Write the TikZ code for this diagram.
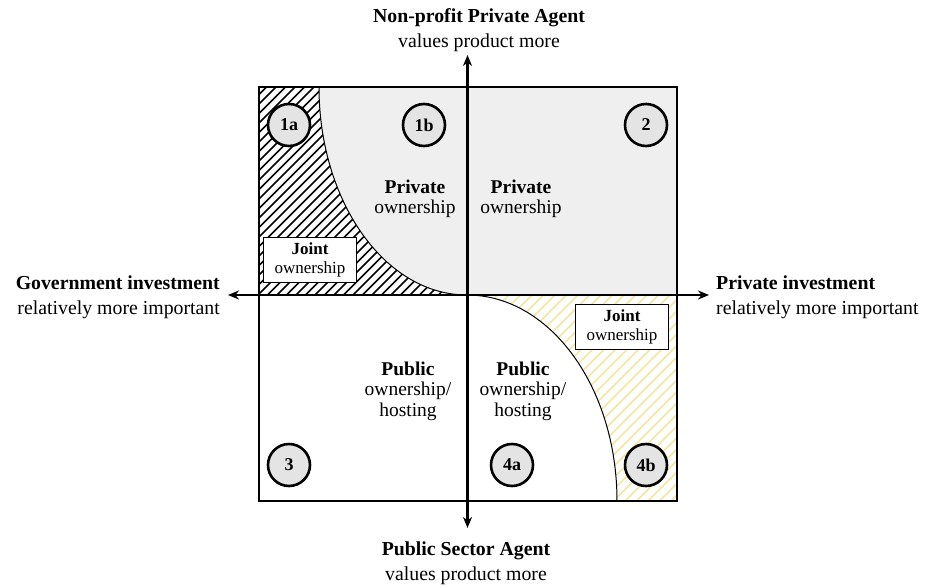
\documentclass[tikz,border=0pt]{standalone}
\usepackage{fontspec}
\setmainfont{Liberation Serif}
\usetikzlibrary{arrows.meta}
\definecolor{qgray}{HTML}{EFEFEF}
\definecolor{cgray}{HTML}{E4E4E4}
\definecolor{hyellow}{HTML}{F3E6A0}
\tikzset{
  outer/.style={font=\fontsize{19.8}{25}\selectfont, inner sep=0pt},
  quad/.style={font=\fontsize{19.5}{20.5}\selectfont, align=center, inner sep=0pt},
  jointbox/.style={draw, fill=white, line width=1pt, font=\fontsize{17}{19}\selectfont,
    align=center, minimum width=93pt, minimum height=45pt, inner sep=0pt},
  num/.style={circle, draw, line width=2.6pt, fill=cgray, minimum size=42pt, inner sep=0pt,
    font=\bfseries\fontsize{18}{18}\selectfont},
  axis/.style={line width=2.5pt, {Stealth[length=11pt,width=9pt]}-{Stealth[length=11pt,width=9pt]}},
  hatchline/.style={line width=1.5pt},
}
\begin{document}
\begin{tikzpicture}[x=1pt,y=-1pt]
\useasboundingbox (0,0) rectangle (925,586);
% gray areas
\fill[qgray] (467,87) rectangle (677,295);
\fill[qgray] (467,87) -- (319,87) .. controls (319,201.9) and (385.3,295) .. (467,295) -- cycle;
% black hatch
\begin{scope}
  \clip (259,87) -- (319,87) .. controls (319,201.9) and (385.3,295) .. (467,295) -- (259,295) -- cycle;
  \foreach \i in {0,9.5,...,480} {
    \draw[hatchline, black] (259-210+\i,295) -- ++(220,-220);
  }
\end{scope}
% yellow hatch
\begin{scope}
  \clip (467,295) .. controls (549.8,295) and (617,387.2) .. (617,501) -- (677,501) -- (677,295) -- cycle;
  \foreach \i in {0,11.5,...,480} {
    \draw[hatchline, hyellow] (467-210+\i,501) -- ++(220,-220);
  }
\end{scope}
% curves
\draw[line width=1pt] (319,87) .. controls (319,201.9) and (385.3,295) .. (467,295);
\draw[line width=1pt] (467,295) .. controls (549.8,295) and (617,387.2) .. (617,501);
% frame
\draw[line width=2pt] (259,87) rectangle (677,501);
% axes
\coordinate (vt) at (467.5,55);
\coordinate (vb) at (467.5,528);
\coordinate (hl) at (228,295);
\coordinate (hr) at (709,295);
\draw[axis] (vb) -- (vt);
\draw[axis] (hl) -- (hr);
% circles
\node[num] (c1a) at (289,125) {1a};
\node[num] (c1b) at (424,125) {1b};
\node[num] (c2) at (646,125) {2};
\node[num] (c3) at (289,465) {3};
\node[num] (c4a) at (512,465) {4a};
\node[num] (c4b) at (646,465) {4b};
% quadrant texts
\node[quad] (p1) at (415,199) {\textbf{Private}\\ownership};
\node[quad] (p2) at (521,199) {\textbf{Private}\\ownership};
\node[quad] (u1) at (408,391) {\textbf{Public}\\ownership/\\hosting};
\node[quad] (u2) at (523,391) {\textbf{Public}\\ownership/\\hosting};
% joint boxes
\node[jointbox] (j1) at (310,260) {\textbf{Joint}\\ownership};
\node[jointbox] (j2) at (622,327) {\textbf{Joint}\\ownership};
% outer labels
\node[outer, anchor=east, align=right] (gl) at (220,297) {\textbf{Government investment}\\relatively more important};
\node[outer, anchor=west, align=left] (pl) at (716,297) {\textbf{Private investment}\\relatively more important};
\node[outer, align=center] (tl) at (479,30) {\textbf{Non-profit Private Agent}\\values product more};
\node[outer, align=center] (bl) at (466,563) {\textbf{Public Sector Agent}\\values product more};
\end{tikzpicture}
\end{document}
